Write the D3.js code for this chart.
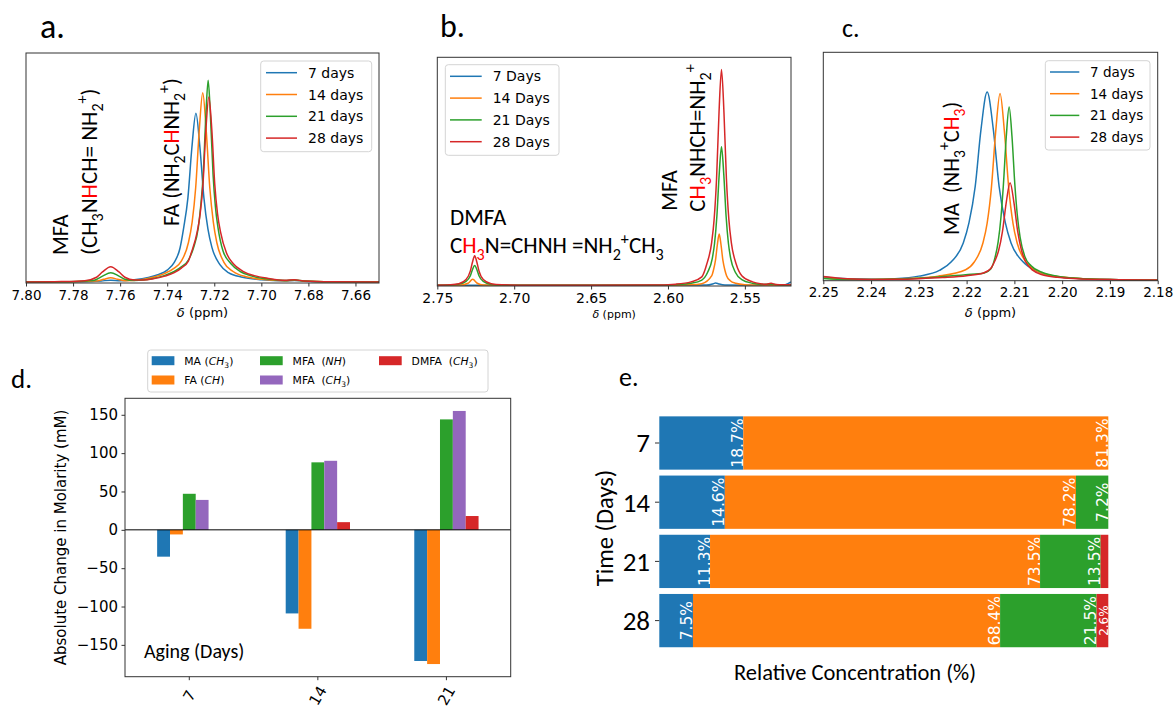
<!DOCTYPE html>
<html>
<head>
<meta charset="utf-8">
<script src="https://cdn.jsdelivr.net/npm/d3@7"></script>
<style>
  body { margin: 0; background: #fff; }
  svg { display: block; }
  text { white-space: pre; }
</style>
</head>
<body>
<svg id="fig" width="1174" height="708"></svg>
<script>
// ---- data ----
// panel a: FA CH region (ppm, relative intensity)
var specA_7 = [[7.800,0.004],[7.785,0.005],[7.772,0.007],[7.768,0.009],[7.764,0.012],[7.760,0.010],[7.754,0.014],[7.748,0.024],[7.744,0.036],[7.740,0.056],[7.737,0.090],[7.7346,0.150],[7.733,0.240],[7.7312,0.370],[7.7295,0.590],[7.7278,0.738],[7.7261,0.590],[7.7244,0.370],[7.7227,0.235],[7.7210,0.155],[7.7176,0.080],[7.714,0.045],[7.708,0.025],[7.700,0.014],[7.690,0.009],[7.686,0.011],[7.682,0.008],[7.670,0.005],[7.650,0.004]];
var specA_14 = [[7.800,0.004],[7.785,0.005],[7.773,0.008],[7.770,0.009],[7.767,0.016],[7.764,0.023],[7.761,0.016],[7.758,0.010],[7.752,0.013],[7.746,0.025],[7.741,0.042],[7.737,0.065],[7.734,0.095],[7.731,0.175],[7.7294,0.265],[7.7279,0.414],[7.7264,0.660],[7.7249,0.827],[7.7234,0.660],[7.7219,0.414],[7.7204,0.265],[7.7189,0.175],[7.7159,0.090],[7.712,0.050],[7.706,0.026],[7.700,0.016],[7.690,0.010],[7.686,0.012],[7.682,0.009],[7.670,0.005],[7.650,0.004]];
var specA_21 = [[7.800,0.004],[7.785,0.005],[7.774,0.009],[7.771,0.012],[7.7675,0.030],[7.764,0.045],[7.7605,0.030],[7.758,0.016],[7.754,0.011],[7.750,0.013],[7.746,0.020],[7.741,0.033],[7.737,0.050],[7.734,0.070],[7.731,0.100],[7.7289,0.150],[7.7268,0.240],[7.7258,0.330],[7.7247,0.470],[7.7236,0.720],[7.7226,0.881],[7.7216,0.720],[7.7205,0.470],[7.7195,0.330],[7.7184,0.240],[7.7163,0.140],[7.713,0.085],[7.709,0.050],[7.704,0.030],[7.698,0.018],[7.690,0.011],[7.686,0.013],[7.682,0.009],[7.670,0.005],[7.650,0.004]];
var specA_28 = [[7.800,0.004],[7.785,0.006],[7.775,0.010],[7.770,0.025],[7.7675,0.048],[7.764,0.071],[7.7605,0.048],[7.758,0.025],[7.754,0.013],[7.750,0.013],[7.746,0.018],[7.741,0.030],[7.737,0.045],[7.734,0.065],[7.731,0.095],[7.7298,0.130],[7.7273,0.220],[7.726,0.300],[7.7248,0.430],[7.7236,0.660],[7.7223,0.809],[7.721,0.660],[7.7198,0.430],[7.7186,0.300],[7.7173,0.220],[7.7148,0.130],[7.712,0.085],[7.708,0.052],[7.703,0.032],[7.697,0.020],[7.690,0.012],[7.686,0.014],[7.682,0.009],[7.670,0.005],[7.650,0.004]];

// panel b: MFA / DMFA CH3 region
var specB_7 = [[2.750,0.003],[2.700,0.003],[2.650,0.003],[2.600,0.003],[2.575,0.004],[2.5705,0.010],[2.569,0.013],[2.567,0.009],[2.563,0.004],[2.540,0.003],[2.525,0.004],[2.522,0.010],[2.520,0.018]];
var specB_14 = [[2.750,0.003],[2.735,0.004],[2.730,0.012],[2.727,0.029],[2.724,0.012],[2.720,0.004],[2.700,0.003],[2.650,0.003],[2.600,0.003],[2.585,0.005],[2.578,0.010],[2.5715,0.045],[2.5704,0.070],[2.5691,0.113],[2.5679,0.180],[2.5667,0.227],[2.5655,0.180],[2.5643,0.113],[2.563,0.070],[2.5619,0.045],[2.5595,0.023],[2.556,0.012],[2.550,0.006],[2.540,0.004],[2.520,0.003]];
var specB_21 = [[2.750,0.003],[2.742,0.004],[2.736,0.008],[2.7313,0.020],[2.7285,0.045],[2.7271,0.072],[2.7257,0.090],[2.7243,0.072],[2.7229,0.045],[2.7201,0.020],[2.715,0.007],[2.708,0.004],[2.690,0.003],[2.650,0.003],[2.610,0.003],[2.595,0.006],[2.585,0.012],[2.578,0.026],[2.5742,0.060],[2.5712,0.120],[2.5697,0.187],[2.5682,0.305],[2.5667,0.487],[2.5652,0.609],[2.5637,0.487],[2.5622,0.305],[2.5607,0.187],[2.5592,0.120],[2.5562,0.060],[2.552,0.028],[2.545,0.012],[2.540,0.007],[2.533,0.008],[2.525,0.004],[2.520,0.004]];
var specB_28 = [[2.750,0.003],[2.742,0.005],[2.736,0.010],[2.7313,0.028],[2.7285,0.066],[2.7271,0.105],[2.7257,0.132],[2.7243,0.105],[2.7229,0.066],[2.7201,0.028],[2.715,0.010],[2.708,0.005],[2.690,0.003],[2.650,0.003],[2.610,0.004],[2.595,0.008],[2.585,0.018],[2.578,0.040],[2.5748,0.095],[2.5716,0.190],[2.570,0.290],[2.5684,0.470],[2.5668,0.760],[2.5652,0.947],[2.5636,0.760],[2.562,0.470],[2.5604,0.290],[2.5588,0.190],[2.5556,0.095],[2.552,0.045],[2.545,0.018],[2.540,0.010],[2.536,0.008],[2.533,0.012],[2.530,0.007],[2.525,0.005],[2.520,0.005]];

// panel c: MA CH3 region
var specC_7 = [[2.250,0.016],[2.245,0.008],[2.240,0.006],[2.235,0.009],[2.230,0.020],[2.2257,0.045],[2.2232,0.083],[2.2207,0.165],[2.2195,0.254],[2.2182,0.413],[2.217,0.660],[2.2157,0.826],[2.2144,0.660],[2.2132,0.413],[2.2119,0.254],[2.2107,0.165],[2.2082,0.083],[2.2057,0.045],[2.203,0.025],[2.200,0.015],[2.195,0.008],[2.190,0.005],[2.180,0.003]];
var specC_14 = [[2.250,0.012],[2.245,0.006],[2.240,0.005],[2.235,0.007],[2.230,0.012],[2.226,0.020],[2.2202,0.048],[2.2184,0.082],[2.2166,0.164],[2.2157,0.252],[2.2148,0.410],[2.2139,0.656],[2.2130,0.820],[2.2121,0.656],[2.2112,0.410],[2.2103,0.252],[2.2094,0.164],[2.2076,0.082],[2.2058,0.048],[2.203,0.026],[2.200,0.016],[2.195,0.009],[2.190,0.005],[2.180,0.003]];
var specC_21 = [[2.250,0.010],[2.245,0.005],[2.240,0.005],[2.235,0.007],[2.230,0.011],[2.225,0.018],[2.2202,0.026],[2.2163,0.034],[2.2150,0.050],[2.2141,0.098],[2.2134,0.170],[2.2128,0.280],[2.2123,0.420],[2.2117,0.630],[2.2111,0.760],[2.2105,0.630],[2.2099,0.420],[2.2094,0.290],[2.2088,0.190],[2.2078,0.105],[2.2065,0.065],[2.204,0.035],[2.201,0.020],[2.197,0.011],[2.190,0.005],[2.180,0.003]];
var specC_28 = [[2.250,0.018],[2.245,0.008],[2.240,0.005],[2.235,0.006],[2.230,0.009],[2.225,0.014],[2.220,0.022],[2.2165,0.034],[2.2150,0.052],[2.2141,0.086],[2.2133,0.132],[2.2125,0.215],[2.2117,0.343],[2.2109,0.429],[2.2101,0.343],[2.2093,0.215],[2.2085,0.132],[2.2077,0.086],[2.2061,0.045],[2.204,0.025],[2.201,0.015],[2.197,0.009],[2.190,0.005],[2.180,0.003]];

var ticksA = [7.80, 7.78, 7.76, 7.74, 7.72, 7.70, 7.68, 7.66];
var ticksB = [2.75, 2.70, 2.65, 2.60, 2.55];
var ticksC = [2.25, 2.24, 2.23, 2.22, 2.21, 2.20, 2.19, 2.18];
var legendA = ["7 days", "14 days", "21 days", "28 days"];
var legendB = ["7 Days", "14 Days", "21 Days", "28 Days"];
var legendC = ["7 days", "14 days", "21 days", "28 days"];

// panel d: absolute change in molarity (mM)
var daysD = ["7", "14", "21"];
var dMA = [-35, -109, -171];
var dFA = [-6, -129, -175];
var dMFAnh = [47, 88, 144];
var dMFAch3 = [39, 90, 155];
var dDMFA = [0, 10, 18];
var ticksD = [-150, -100, -50, 0, 50, 100, 150];

// panel e: relative concentration (%)
var daysE = ["7", "14", "21", "28"];
var eMA = [18.7, 14.6, 11.3, 7.5];
var eFA = [81.3, 78.2, 73.5, 68.4];
var eMFA = [0, 7.2, 13.5, 21.5];
var eDMFA = [0, 0, 1.7, 2.6];

(function () {
  'use strict';

  var svg = d3.select("#fig");
  var DV = "'DejaVu Sans', sans-serif";
  var CAL = "Carlito, Lato, sans-serif";
  var RED = "#ff0000";
  var colors = ["#1f77b4", "#ff7f0e", "#2ca02c", "#d62728", "#9467bd"];

  // rich text with sub/superscripts and coloured runs
  function rich(text, parts, size) {
    var shift = 0;
    parts.forEach(function(p) {
      var opt = p[1] || "";
      var target = opt.indexOf("sub") > -1 ? 0.28 : (opt.indexOf("sup") > -1 ? -0.42 : 0);
      var small = target !== 0;
      var ts = text.append("tspan").text(p[0])
        .attr("dy", ((target - shift) * size) + "px")
        .attr("font-size", small ? size * 0.7 : size);
      if (opt.indexOf("red") > -1) ts.attr("fill", RED);
      if (opt.indexOf("it") > -1) ts.attr("font-style", "italic");
      shift = target;
    });
  }

  function label(x, y, parts, size, rot, family) {
    var t = svg.append("text")
      .attr("transform", "translate(" + x + "," + y + ")" + (rot ? " rotate(-90)" : ""))
      .attr("font-family", family || CAL)
      .attr("font-size", size)
      .attr("fill", "#000");
    rich(t, parts, size);
    return t;
  }

  function spectrum(o) {
    var g = svg.append("g");
    var x = d3.scaleLinear().domain(o.domain).range([o.box[0], o.box[1]]);
    var y = d3.scaleLinear().domain([0, 1]).range([o.box[3], o.box[2]]);

    svg.append("clipPath").attr("id", "clip" + o.name)
      .append("rect")
      .attr("x", o.box[0]).attr("y", o.box[2])
      .attr("width", o.box[1] - o.box[0]).attr("height", o.box[3] - o.box[2]);

    var line = d3.line()
      .x(function(d) { return x(d[0]); })
      .y(function(d) { return y(d[1]); })
      .curve(d3.curveMonotoneX);

    var lines = g.append("g").attr("clip-path", "url(#clip" + o.name + ")");
    o.series.forEach(function(s, i) {
      var pts = s.slice().sort(function(a, b) { return b[0] - a[0]; });
      lines.append("path").datum(pts)
        .attr("d", line)
        .attr("fill", "none")
        .attr("stroke", colors[i])
        .attr("stroke-width", 1.5);
    });

    // bottom axis
    var ax = g.append("g")
      .attr("transform", "translate(0," + o.box[3] + ")")
      .call(d3.axisBottom(x).tickValues(o.ticks).tickFormat(d3.format(".2f"))
        .tickSize(3.5).tickPadding(3.5));
    ax.select(".domain").remove();
    ax.selectAll("line").attr("stroke", "#333");
    ax.selectAll("text").attr("font-family", DV).attr("font-size", o.tickFont).attr("fill", "#000");

    // frame
    g.append("rect")
      .attr("x", o.box[0]).attr("y", o.box[2])
      .attr("width", o.box[1] - o.box[0]).attr("height", o.box[3] - o.box[2])
      .attr("fill", "none").attr("stroke", "#333").attr("stroke-width", 1);

    // x label
    var xl = g.append("text")
      .attr("x", (o.box[0] + o.box[1]) / 2).attr("y", o.xlabelY)
      .attr("text-anchor", "middle")
      .attr("font-family", DV).attr("font-size", o.xlabelFont);
    xl.append("tspan").attr("font-style", "italic").text("δ");
    xl.append("tspan").text(" (ppm)");

    // legend
    var L = o.legend;
    var lg = g.append("g");
    lg.append("rect")
      .attr("x", L.x0).attr("y", L.y0)
      .attr("width", L.x1 - L.x0).attr("height", L.y1 - L.y0)
      .attr("rx", 3)
      .attr("fill", "#fff").attr("fill-opacity", 0.8)
      .attr("stroke", "#d4d4d4");
    o.labels.forEach(function(t, i) {
      var yy = L.row0 + i * L.dy;
      lg.append("line")
        .attr("x1", L.lx0).attr("x2", L.lx1).attr("y1", yy).attr("y2", yy)
        .attr("stroke", colors[i]).attr("stroke-width", 1.5);
      lg.append("text")
        .attr("x", L.tx).attr("y", yy).attr("dy", "0.36em")
        .attr("font-family", DV).attr("font-size", L.font)
        .text(t);
    });
  }

  // ---- panels a, b, c ----
  spectrum({
    name: "a", domain: [7.80, 7.65], box: [26, 379, 53, 283],
    series: [specA_7, specA_14, specA_21, specA_28],
    ticks: ticksA, tickFont: 13.5, xlabelY: 317, xlabelFont: 13,
    labels: legendA,
    legend: { x0: 260.7, x1: 371.7, y0: 61, y1: 151.7, row0: 72.7, dy: 21.8, lx0: 266, lx1: 297, tx: 308, font: 14 }
  });
  spectrum({
    name: "b", domain: [2.75, 2.52], box: [437.3, 791, 57.3, 286],
    series: [specB_7, specB_14, specB_21, specB_28],
    ticks: ticksB, tickFont: 14, xlabelY: 318, xlabelFont: 11,
    labels: legendB,
    legend: { x0: 445.3, x1: 559, y0: 64.7, y1: 155.3, row0: 76.3, dy: 21.8, lx0: 450, lx1: 481.7, tx: 492.7, font: 14 }
  });
  spectrum({
    name: "c", domain: [2.25, 2.18], box: [823.3, 1157.7, 52.3, 280.7],
    series: [specC_7, specC_14, specC_21, specC_28],
    ticks: ticksC, tickFont: 13.5, xlabelY: 317, xlabelFont: 13,
    labels: legendC,
    legend: { x0: 1045.3, x1: 1150, y0: 60.7, y1: 150, row0: 72, dy: 21.7, lx0: 1050, lx1: 1079.3, tx: 1090, font: 13.5 }
  });

  // peak assignments
  label(68.3, 255, [["MFA"]], 22, true);
  label(97, 255, [["(CH"], ["3", "sub"], ["N"], ["H", "red"], ["CH= NH"], ["2", "sub"], ["+", "sup"], [")"]], 23, true);
  label(178.5, 226, [["FA (NH"], ["2", "sub"], ["C"], ["H", "red"], ["NH"], ["2", "sub"], ["+", "sup"], [")"]], 22.5, true);
  label(677, 210.7, [["MFA"]], 22, true);
  label(705, 211.7, [["C"], ["H", "red"], ["3", "sub red"], ["NHCH=NH"], ["2", "sub"], ["+", "sup"]], 23, true);
  label(450, 225, [["DMFA"]], 23, false);
  label(450, 253.3, [["C"], ["H", "red"], ["3", "sub red"], ["N=CHNH =NH"], ["2", "sub"], ["+", "sup"], ["CH"], ["3", "sub"]], 23, false);
  label(958.5, 235, [["MA  (NH"], ["3", "sub"], ["+", "sup"], ["C"], ["H", "red"], ["3", "sub red"], [")"]], 22.3, true);

  // panel letters
  label(40, 38, [["a."]], 34, false);
  label(440, 37, [["b."]], 32, false);
  label(842, 37, [["c."]], 26, false);
  label(11, 388, [["d."]], 27, false);
  label(619, 386, [["e."]], 26, false);

  // ---- panel d: grouped bars ----
  var seriesD = [
    { key: "MA", vals: dMA, parts: [["MA ("], ["CH", "it"], ["3", "sub"], [")"]] },
    { key: "FA", vals: dFA, parts: [["FA ("], ["CH", "it"], [")"]] },
    { key: "MFAnh", vals: dMFAnh, parts: [["MFA  ("], ["NH", "it"], [")"]] },
    { key: "MFAch3", vals: dMFAch3, parts: [["MFA  ("], ["CH", "it"], ["3", "sub"], [")"]] },
    { key: "DMFA", vals: dDMFA, parts: [["DMFA  ("], ["CH", "it"], ["3", "sub"], [")"]] }
  ];
  var colD = [colors[0], colors[1], colors[2], colors[4], colors[3]];
  var boxD = [125, 510.7, 398.3, 676.7];

  var xD = d3.scaleBand().domain(daysD).range([boxD[0], boxD[1]]);
  var bw = xD.bandwidth();
  var xDs = d3.scaleBand().domain(seriesD.map(function(s) { return s.key; }))
    .range([-0.25 * bw, 0.25 * bw]);
  var yD = d3.scaleLinear().domain([-191.5, 171.5]).range([boxD[3], boxD[2]]);

  var gD = svg.append("g");
  seriesD.forEach(function(s, j) {
    gD.selectAll(null).data(s.vals).enter().append("rect")
      .attr("x", function(d, i) { return xD(daysD[i]) + bw / 2 + xDs(s.key); })
      .attr("width", xDs.bandwidth())
      .attr("y", function(d) { return yD(Math.max(0, d)); })
      .attr("height", function(d) { return Math.abs(yD(d) - yD(0)); })
      .attr("fill", colD[j]);
  });
  gD.append("line")
    .attr("x1", boxD[0]).attr("x2", boxD[1]).attr("y1", yD(0)).attr("y2", yD(0))
    .attr("stroke", "#000").attr("stroke-width", 1);

  var ayD = gD.append("g").attr("transform", "translate(" + boxD[0] + ",0)")
    .call(d3.axisLeft(yD).tickValues(ticksD).tickSize(3.5).tickPadding(3.5));
  ayD.select(".domain").remove();
  ayD.selectAll("line").attr("stroke", "#333");
  ayD.selectAll("text").attr("font-family", DV).attr("font-size", 15).attr("fill", "#000");

  // rotated category labels
  daysD.forEach(function(d) {
    var cx = xD(d) + bw / 2;
    gD.append("line").attr("x1", cx).attr("x2", cx)
      .attr("y1", boxD[3]).attr("y2", boxD[3] + 3.5).attr("stroke", "#333");
    gD.append("text")
      .attr("transform", "translate(" + cx + "," + (boxD[3] + 19) + ") rotate(-60)")
      .attr("text-anchor", "middle").attr("dy", "0.35em")
      .attr("font-family", DV).attr("font-size", 15)
      .text(d);
  });

  gD.append("rect")
    .attr("x", boxD[0]).attr("y", boxD[2])
    .attr("width", boxD[1] - boxD[0]).attr("height", boxD[3] - boxD[2])
    .attr("fill", "none").attr("stroke", "#333");

  gD.append("text")
    .attr("transform", "translate(66," + ((boxD[2] + boxD[3]) / 2) + ") rotate(-90)")
    .attr("text-anchor", "middle")
    .attr("font-family", DV).attr("font-size", 15)
    .text("Absolute Change in Molarity (mM)");

  label(144, 658.3, [["Aging (Days)"]], 20, false);

  // legend d, three columns filled top to bottom
  gD.append("rect")
    .attr("x", 147.7).attr("y", 350).attr("width", 340.3).attr("height", 42)
    .attr("rx", 3).attr("fill", "#fff").attr("stroke", "#d4d4d4");
  var colX = [151.7, 260, 379];
  seriesD.forEach(function(s, j) {
    var c = Math.floor(j / 2), r = j % 2;
    var yy = r ? 380 : 360.7;
    gD.append("rect")
      .attr("x", colX[c]).attr("y", yy - 4.5).attr("width", 22.7).attr("height", 9)
      .attr("fill", colD[j]);
    var t = gD.append("text")
      .attr("x", colX[c] + 32.6).attr("y", yy + 4)
      .attr("font-family", DV).attr("font-size", 10.8);
    rich(t, s.parts, 10.8);
  });

  // ---- panel e: stacked horizontal bars ----
  var keysE = ["MA", "FA", "MFA", "DMFA"];
  var colE = [colors[0], colors[1], colors[2], colors[3]];
  var rowsE = daysE.map(function(d, i) {
    return { day: d, MA: eMA[i], FA: eFA[i], MFA: eMFA[i], DMFA: eDMFA[i] };
  });
  var stackE = d3.stack().keys(keysE)(rowsE);

  var xE = d3.scaleLinear().domain([0, 100]).range([659.3, 1108.3]);
  var yE = d3.scaleBand().domain(daysE).range([413.4, 650.2])
    .paddingInner(0.1).paddingOuter(0.05);

  var gE = svg.append("g");
  stackE.forEach(function(layer, k) {
    gE.selectAll(null).data(layer).enter().append("rect")
      .attr("x", function(d) { return xE(d[0]); })
      .attr("width", function(d) { return xE(d[1]) - xE(d[0]); })
      .attr("y", function(d) { return yE(d.data.day); })
      .attr("height", yE.bandwidth())
      .attr("fill", colE[k]);

    // value labels, skipped for slivers under 2 %
    layer.forEach(function(d) {
      var v = d[1] - d[0];
      if (v < 2) return;
      var w = xE(d[1]) - xE(d[0]);
      var cy = yE(d.data.day) + yE.bandwidth() / 2;
      gE.append("text")
        .attr("transform", "translate(" + (xE(d[1]) - 0.5) + "," + cy + ") rotate(-90)")
        .attr("text-anchor", "middle")
        .attr("font-family", DV).attr("font-size", w < 15 ? 12 : 15.5)
        .attr("fill", "#fff")
        .text(v.toFixed(1) + "%");
    });
  });

  daysE.forEach(function(d) {
    var cy = yE(d) + yE.bandwidth() / 2;
    gE.append("line").attr("x1", 655).attr("x2", 659.3).attr("y1", cy).attr("y2", cy)
      .attr("stroke", "#333");
    gE.append("text")
      .attr("x", 650).attr("y", cy).attr("dy", "0.35em")
      .attr("text-anchor", "end")
      .attr("font-family", CAL).attr("font-size", 27)
      .text(d);
  });

  gE.append("text")
    .attr("transform", "translate(613,528) rotate(-90)")
    .attr("text-anchor", "middle")
    .attr("font-family", CAL).attr("font-size", 24.5)
    .text("Time (Days)");
  gE.append("text")
    .attr("x", 855).attr("y", 680)
    .attr("text-anchor", "middle")
    .attr("font-family", CAL).attr("font-size", 22.5)
    .text("Relative Concentration (%)");
}());
</script>
</body>
</html>
